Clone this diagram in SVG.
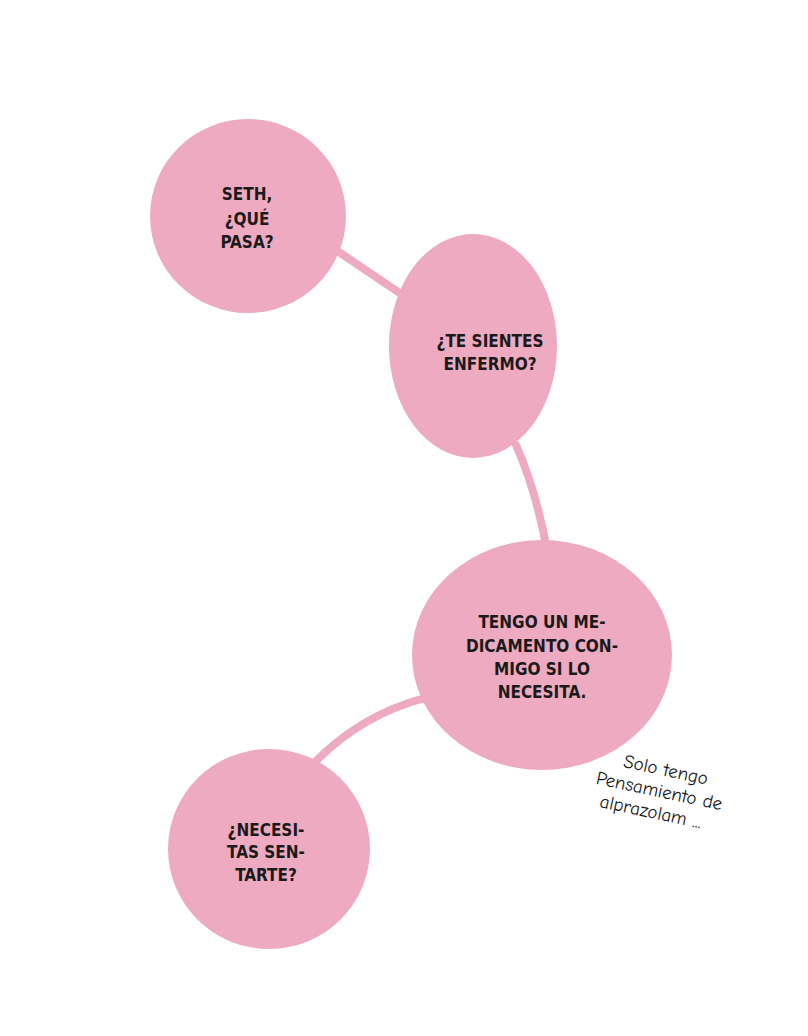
<svg xmlns="http://www.w3.org/2000/svg" width="808" height="1036" viewBox="0 0 808 1036">
<style>
.node{fill:#eeaac0;}
.edge{fill:none;stroke:#eeaac0;stroke-width:8;stroke-linecap:round;}
.t{font-family:"DejaVu Sans Condensed","DejaVu Sans",sans-serif;font-weight:bold;font-size:17px;fill:#1a1a1a;text-anchor:middle;}
.note{font-family:"Comic Neue","Lato","DejaVu Sans",sans-serif;font-size:19px;fill:#1a1a1a;text-anchor:middle;}
</style>
<rect width="808" height="1036" fill="#ffffff"/>
<g id="connectors">
<path class="edge" d="M330 246 L410 300"/>
<path class="edge" d="M516 445 Q536 490 547 550"/>
<path class="edge" d="M425 698 Q360 715 312 765"/>
</g>
<g id="n1">
<ellipse class="node" cx="248" cy="216" rx="98" ry="97"/>
<text class="t" x="247" y="200">SETH,</text>
<text class="t" x="247" y="225">¿QUÉ</text>
<text class="t" x="247" y="248">PASA?</text>
</g>
<g id="n2">
<ellipse class="node" cx="473" cy="346" rx="84" ry="112"/>
<text class="t" x="490" y="347">¿TE SIENTES</text>
<text class="t" x="490" y="370">ENFERMO?</text>
</g>
<g id="n3">
<ellipse class="node" cx="542" cy="655" rx="130" ry="115"/>
<text class="t" x="542" y="628">TENGO UN ME-</text>
<text class="t" x="542" y="652">DICAMENTO CON-</text>
<text class="t" x="542" y="675">MIGO SI LO</text>
<text class="t" x="542" y="698">NECESITA.</text>
</g>
<g id="n4">
<ellipse class="node" cx="269" cy="849" rx="101" ry="100"/>
<text class="t" x="266" y="836">¿NECESI-</text>
<text class="t" x="266" y="858">TAS SEN-</text>
<text class="t" x="266" y="881">TARTE?</text>
</g>
<g id="note" transform="rotate(12 658 797)">
<text class="note" x="660" y="775">Solo tengo</text>
<text class="note" x="658" y="797">Pensamiento de</text>
<text class="note" x="654" y="819">alprazolam ...</text>
</g>
</svg>
